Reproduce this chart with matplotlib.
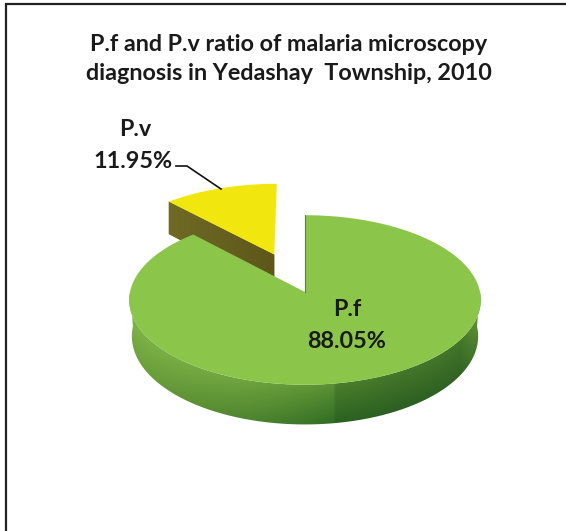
import matplotlib
matplotlib.use('Agg')
import matplotlib.pyplot as plt
import numpy as np
from matplotlib.colors import LinearSegmentedColormap, to_rgb
from matplotlib.patches import PathPatch, Polygon
from matplotlib.path import Path

# P.f and P.v share of malaria microscopy diagnosis
labels = ['P.f', 'P.v']
shares = [88.05, 11.95]
title = 'P.f and P.v ratio of malaria microscopy\ndiagnosis in Yedashay  Township, 2010'

plt.rcParams['font.family'] = ['Lato', 'DejaVu Sans']

# pie geometry, in image pixels
cx, cy = 305, 292
rx, ry = 175, 84
persp = 0.094
depth = 36
explode = 0.5


def project(u, v, drop=0.0, shrink=1.0):
    # tilted disc with a bit of perspective
    w = 1 + persp * v
    return np.column_stack([cx + shrink * rx * u / w, cy - ry * v / w + drop / w])


def rim(start, end, n=200):
    t = np.radians(np.linspace(start, end, n))
    return -np.sin(t), np.cos(t)


fig = plt.figure(figsize=(5.66, 5.31), dpi=100)
ax = fig.add_axes([0, 0, 1, 1])
ax.set_xlim(0, 566)
ax.set_ylim(531, 0)
ax.axis('off')

ax.plot([565.5, 6, 6], [4, 4, 531], color='#222222', lw=1.6, solid_joinstyle='miter')

pv_angle = shares[1] / sum(shares) * 360

# P.v slice, pulled out of the pie
mid = np.radians(pv_angle / 2)
du, dv = -explode * np.sin(mid), explode * np.cos(mid)
u, v = rim(0, pv_angle)
a = project(np.array([du, du + u[-1]]), np.array([dv, dv + v[-1]]))
b = project(np.array([du + u[-1], du]), np.array([dv + v[-1], dv]), depth)
wall = Polygon(np.vstack([a, b]), closed=True, fc='#66611f', ec='none', zorder=2)
ax.add_patch(wall)
grad = np.linspace(0, 1, 64).reshape(1, -1)
cmap = LinearSegmentedColormap.from_list('pv_side', ['#6f6a24', '#5c5719'])
im = ax.imshow(grad, extent=[165, 280, 290, 195], cmap=cmap, aspect='auto', zorder=2)
im.set_clip_path(wall)
top = np.vstack([project(np.array([du]), np.array([dv])), project(du + u, dv + v)])
ax.add_patch(Polygon(top, closed=True, fc='#f2e60f', ec='none', zorder=3))

# P.f slice, side wall first
u, v = rim(pv_angle, 360, 400)
front = v < 0.02
upper = project(u[front], v[front])
lower = project(u[front], v[front], depth, 0.985)
wall_path = Path(np.vstack([upper, lower[::-1], upper[:1]]))

# wall shading, left to right and from the rim downwards
xs = np.array([125, 180, 250, 333, 336, 400, 460, 485])
top_col = ['#7fb548', '#78ad43', '#6fa33e', '#5d9234', '#4b7f2c', '#457729', '#44752a', '#6c9f3e']
bot_col = ['#6fa23e', '#5f9336', '#4f852f', '#326f25', '#2b6322', '#2c5f21', '#2f6223', '#4f7f30']
top_rgb = np.array([to_rgb(c) for c in top_col])
bot_rgb = np.array([to_rgb(c) for c in bot_col])
grid_x = np.arange(125, 486) + 0.5
grid_y = np.arange(285, 431) + 0.5
order = np.argsort(upper[:, 0])
rim_y = np.interp(grid_x, upper[order, 0], upper[order, 1])
f = np.clip((grid_y[:, None] - rim_y[None, :]) / (depth * 1.05), 0, 1)[:, :, None]
top_row = np.stack([np.interp(grid_x, xs, top_rgb[:, i]) for i in range(3)], axis=1)[None, :, :]
bot_row = np.stack([np.interp(grid_x, xs, bot_rgb[:, i]) for i in range(3)], axis=1)[None, :, :]
rgb = top_row * (1 - f) + bot_row * f
im = ax.imshow(rgb, extent=[125, 486, 431, 285], aspect='auto', zorder=4)
im.set_clip_path(PathPatch(wall_path, transform=ax.transData))

top = np.vstack([project(np.array([0.0]), np.array([0.0])), project(u, v)])
ax.add_patch(Polygon(top, closed=True, fc='#8bc64b', ec='none', zorder=5))
notch = project(np.array([0.0, 0.0]), np.array([0.0, 1.0]))
ax.plot(notch[:, 0], notch[:, 1], color='#5c7f38', lw=0.8, zorder=6)

ax.set_xlim(0, 566)
ax.set_ylim(531, 0)

txt = dict(ha='center', va='center', fontweight='bold', color='#1a1a1a', zorder=7)
ax.text(289, 59, title, fontsize=16.8, linespacing=1.42, **txt)
ax.text(347, 310, labels[0], fontsize=16.8, **txt)
ax.text(347, 341, '%.2f%%' % shares[0], fontsize=16.8, **txt)
ax.text(135, 129, labels[1], fontsize=16.8, **txt)
ax.text(133.5, 161, '%.2f%%' % shares[1], fontsize=16.8, **txt)

# leader line for the P.v label
ax.plot([176, 187, 221], [166, 166, 189], color='#111111', lw=1.2, zorder=7)

fig.savefig('out.png', dpi=100)
